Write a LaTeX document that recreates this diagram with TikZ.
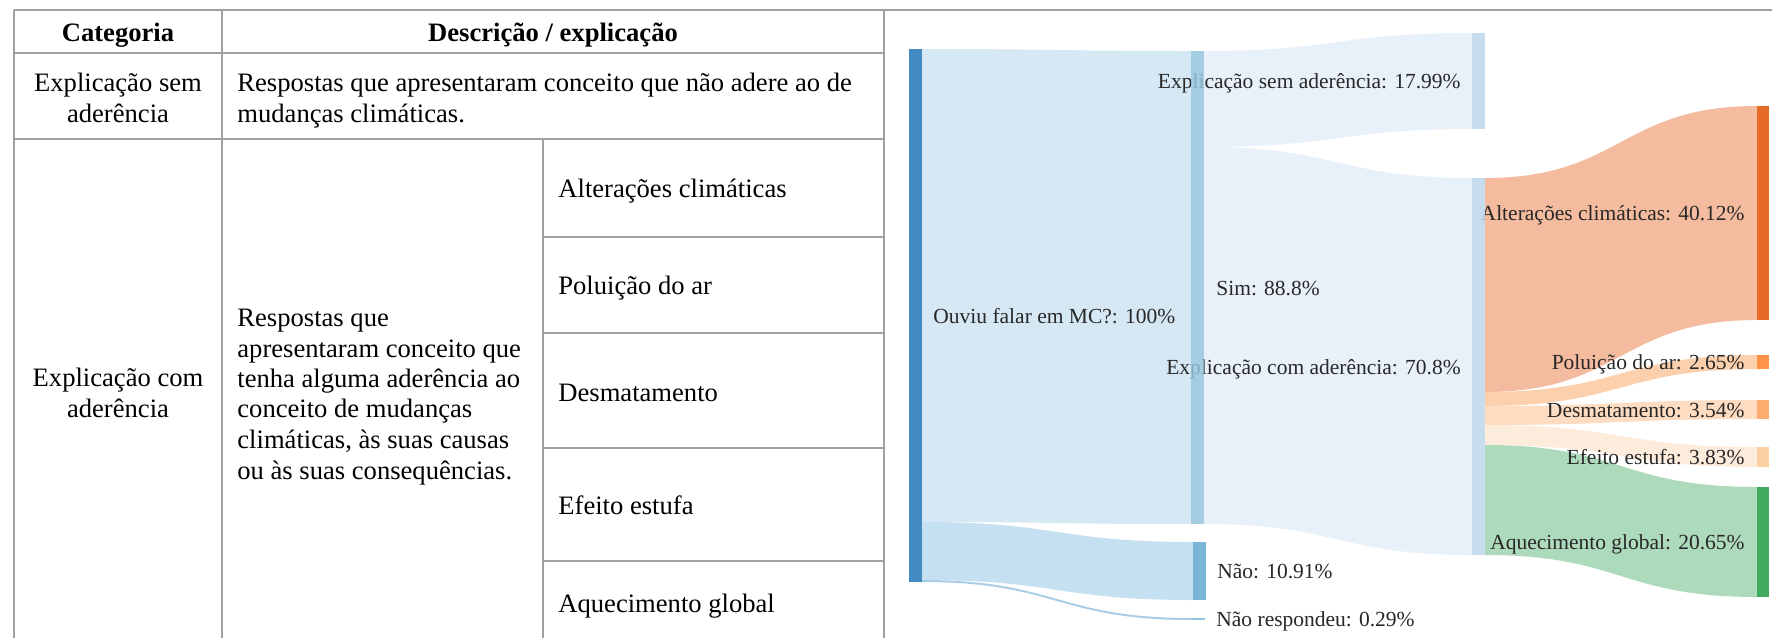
\documentclass[tikz,border=0pt]{standalone}
\usepackage{fontspec}
\setmainfont{Liberation Serif}
\definecolor{gridgray}{RGB}{160,160,160}
\definecolor{labgray}{RGB}{40,40,40}
\definecolor{cOuviu}{RGB}{66,139,195}
\definecolor{cSim}{RGB}{150,197,222}
\definecolor{cNao}{RGB}{122,180,216}
\definecolor{cNaoR}{RGB}{150,195,225}
\definecolor{cExp}{RGB}{190,214,235}
\definecolor{cAlt}{RGB}{231,106,41}
\definecolor{cPol}{RGB}{253,146,72}
\definecolor{cDes}{RGB}{253,171,110}
\definecolor{cEfe}{RGB}{253,208,162}
\definecolor{cAqu}{RGB}{65,171,93}
\definecolor{fSim}{RGB}{214,232,243}
\definecolor{fNao}{RGB}{197,224,240}
\definecolor{fNaoR}{RGB}{170,205,230}
\definecolor{fExp}{RGB}{232,240,249}
\definecolor{fAlt}{RGB}{244,187,158}
\definecolor{fPol}{RGB}{252,208,172}
\definecolor{fDes}{RGB}{253,220,193}
\definecolor{fEfe}{RGB}{253,235,220}
\definecolor{fAqu}{RGB}{173,218,187}
% flow: color, x1, y1top, y1bot, x2, y2top, y2bot
\newcommand\sankeyflow[7]{%
  \fill[#1] (#2,#3) .. controls ({(#2+#5)/2},#3) and ({(#2+#5)/2},#6) .. (#5,#6)
    -- (#5,#7) .. controls ({(#2+#5)/2},#7) and ({(#2+#5)/2},#4) .. (#2,#4) -- cycle;}
\tikzset{
  grid/.style={draw=gridgray, line width=1pt},
  tab/.style={inner sep=0pt, font=\fontsize{13.3pt}{15pt}\selectfont},
  tabhead/.style={tab, font=\fontsize{13.3pt}{15pt}\selectfont\bfseries},
  lab/.style={inner sep=0pt, text=labgray, font=\fontsize{10.75pt}{13pt}\selectfont},
}
\begin{document}
\begin{tikzpicture}[x=0.5pt, y=-0.5pt]
\useasboundingbox[fill=white] (0,0) rectangle (1772,638);
% ---------- table grid ----------
\draw[grid] (14,10) -- (1772,10);
\draw[grid] (14,10) -- (14,638);
\draw[grid] (222,10) -- (222,638);
\draw[grid] (884,10) -- (884,638);
\draw[grid] (543,139) -- (543,638);
\draw[grid] (14,53) -- (884,53);
\draw[grid] (14,139) -- (884,139);
\draw[grid] (543,237) -- (884,237);
\draw[grid] (543,333) -- (884,333);
\draw[grid] (543,448) -- (884,448);
\draw[grid] (543,561) -- (884,561);
% ---------- table text ----------
\node[tabhead, anchor=base] (hcat) at (118,41) {Categoria};
\node[tabhead, anchor=base] (hdesc) at (553,41) {Descrição / explicação};
\node[tab, anchor=base] (c1a) at (118,91) {Explicação sem};
\node[tab, anchor=base] (c1b) at (118,122) {aderência};
\node[tab, anchor=base west] (d1a) at (237,91) {Respostas que apresentaram conceito que não adere ao de};
\node[tab, anchor=base west] (d1b) at (237,122) {mudanças climáticas.};
\node[tab, anchor=base] (c2a) at (118,386) {Explicação com};
\node[tab, anchor=base] (c2b) at (118,417) {aderência};
\node[tab, anchor=base west] (d2a) at (237,326) {Respostas que};
\node[tab, anchor=base west] (d2b) at (237,357) {apresentaram conceito que};
\node[tab, anchor=base west] (d2c) at (237,387) {tenha alguma aderência ao};
\node[tab, anchor=base west] (d2d) at (237,417) {conceito de mudanças};
\node[tab, anchor=base west] (d2e) at (237,448) {climáticas, às suas causas};
\node[tab, anchor=base west] (d2f) at (237,479) {ou às suas consequências.};
\node[tab, anchor=base west] (s1) at (558,197) {Alterações climáticas};
\node[tab, anchor=base west] (s2) at (558,294) {Poluição do ar};
\node[tab, anchor=base west] (s3) at (558,401) {Desmatamento};
\node[tab, anchor=base west] (s4) at (558,514) {Efeito estufa};
\node[tab, anchor=base west] (s5) at (558,612) {Aquecimento global};
% ---------- sankey flows ----------
\sankeyflow{fSim}{922}{49}{522}{1191}{51}{524}
\sankeyflow{fNao}{922}{522}{580}{1193}{542}{600}
\sankeyflow{fNaoR}{922}{580}{582}{1192}{618}{620}
\sankeyflow{fExp}{1204}{51}{147}{1472}{33}{129}
\sankeyflow{fExp}{1204}{147}{524}{1472}{178}{555}
\sankeyflow{fAlt}{1485}{178}{392}{1757}{106}{320}
\sankeyflow{fPol}{1485}{392}{406}{1757}{355}{369}
\sankeyflow{fDes}{1485}{406}{425}{1757}{400}{419}
\sankeyflow{fEfe}{1485}{425}{445}{1757}{447}{467}
\sankeyflow{fAqu}{1485}{445}{555}{1757}{487}{597}
% ---------- sankey labels ----------
\node[lab, anchor=base west] (lOuviu) at (933,323.5) {Ouviu falar em MC?: 100\%};
\node[lab, anchor=base west] (lSim) at (1216,295.5) {Sim: 88.8\%};
\node[lab, anchor=base east] (lSem) at (1461,88.5) {Explicação sem aderência: 17.99\%};
\node[lab, anchor=base east] (lCom) at (1461,374.5) {Explicação com aderência: 70.8\%};
\node[lab, anchor=base west] (lNao) at (1217,578.5) {Não: 10.91\%};
\node[lab, anchor=base west] (lNaoR) at (1216,626.5) {Não respondeu: 0.29\%};
\node[lab, anchor=base east] (lAlt) at (1745,220.5) {Alterações climáticas: 40.12\%};
\node[lab, anchor=base east] (lPol) at (1745,369.5) {Poluição do ar: 2.65\%};
\node[lab, anchor=base east] (lDes) at (1745,417) {Desmatamento: 3.54\%};
\node[lab, anchor=base east] (lEfe) at (1745,464.5) {Efeito estufa: 3.83\%};
\node[lab, anchor=base east] (lAqu) at (1745,549.5) {Aquecimento global: 20.65\%};
% ---------- sankey bars ----------
\fill[cOuviu] (909,49) rectangle (922,582);
\fill[cSim, fill opacity=0.85] (1191,51) rectangle (1204,524);
\fill[cNao] (1193,542) rectangle (1206,600);
\fill[cNaoR] (1192,618) rectangle (1205,620);
\fill[cExp, fill opacity=0.85] (1472,33) rectangle (1485,129);
\fill[cExp, fill opacity=0.85] (1472,178) rectangle (1485,555);
\fill[cAlt] (1757,106) rectangle (1769,320);
\fill[cPol] (1757,355) rectangle (1769,369);
\fill[cDes] (1757,400) rectangle (1769,419);
\fill[cEfe] (1757,447) rectangle (1769,467);
\fill[cAqu] (1757,487) rectangle (1769,597);
\end{tikzpicture}
\end{document}
